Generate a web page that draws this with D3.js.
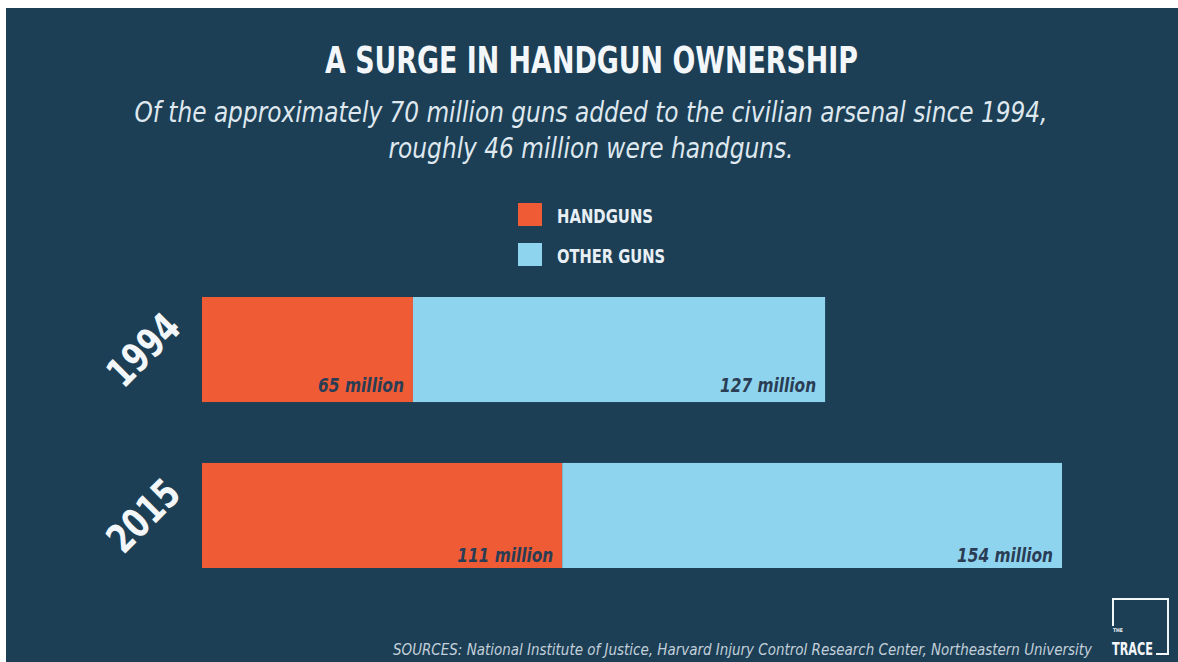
<!DOCTYPE html>
<html>
<head>
<meta charset="utf-8">
<script src="https://cdn.jsdelivr.net/npm/d3@7"></script>
<style>
  html, body { margin: 0; padding: 0; background: #ffffff; }
  svg { display: block; }
</style>
</head>
<body>
<svg id="chart" width="1178" height="662"></svg>
<script>
// ---- data ----
const years = ["1994", "2015"];
const handguns = [65, 111];
const otherGuns = [127, 154];
const seriesNames = ["HANDGUNS", "OTHER GUNS"];
const title = "A SURGE IN HANDGUN OWNERSHIP";
const subtitleLines = [
  "Of the approximately 70 million guns added to the civilian arsenal since 1994,",
  "roughly 46 million were handguns."
];
const sourceText = "SOURCES:  National Institute of Justice, Harvard Injury Control Research Center, Northeastern University";

// ---- style ----
const BG = "#1c3f56";
const ORANGE = "#ef5b34";
const BLUE = "#8fd4ee";
const LABEL = "#2a3d55";
const COND = "'Liberation Sans Narrow', 'DejaVu Sans Condensed', 'Roboto', sans-serif";

const svg = d3.select("#chart");
svg.append("rect").attr("x", 6).attr("y", 8).attr("width", 1172).attr("height", 654).attr("fill", BG);

function fit(sel, w) {
  sel.attr("textLength", w).attr("lengthAdjust", "spacingAndGlyphs");
  return sel;
}
// scale font size so the natural width matches the target width
function fitFont(sel, w) {
  const fs = +sel.attr("font-size");
  const nat = sel.node().getComputedTextLength();
  if (nat > 0) sel.attr("font-size", (fs * w / nat).toFixed(2));
  return sel;
}

// title
fit(svg.append("text")
  .attr("x", 591.5).attr("y", 73)
  .attr("text-anchor", "middle")
  .attr("font-family", COND).attr("font-weight", "bold").attr("font-size", 38)
  .attr("fill", "#f3f7fa")
  .text(title), 533);

// subtitle
const subW = [913, 405];
const subY = [122, 158];
subtitleLines.forEach((t, i) => {
  fit(svg.append("text")
    .attr("x", 591).attr("y", subY[i])
    .attr("text-anchor", "middle")
    .attr("font-family", COND).attr("font-style", "italic").attr("font-size", 28)
    .attr("fill", "#dfe8ef")
    .text(t), subW[i]);
});

// legend
const legendColors = [ORANGE, BLUE];
const legendW = [96, 108];
const legend = svg.append("g");
seriesNames.forEach((n, i) => {
  legend.append("rect").attr("x", 518).attr("y", 203 + i * 40).attr("width", 24).attr("height", 23).attr("fill", legendColors[i]);
  fit(legend.append("text")
    .attr("x", 557).attr("y", 223 + i * 40)
    .attr("font-family", COND).attr("font-weight", "bold").attr("font-size", 19)
    .attr("fill", "#e9f0f5")
    .text(n), legendW[i]);
});

// scales
const totals = years.map((y, i) => handguns[i] + otherGuns[i]);
const x = d3.scaleLinear().domain([0, d3.max(totals)]).range([202, 1062]);
const y = d3.scaleBand().domain(years).range([297, 568]).paddingInner(0.367).paddingOuter(0);

const rows = years.map((yr, i) => ({
  year: yr,
  segs: [
    { key: "h", x0: 0, x1: handguns[i], v: handguns[i], color: ORANGE },
    { key: "o", x0: handguns[i], x1: handguns[i] + otherGuns[i], v: otherGuns[i], color: BLUE }
  ]
}));

const g = svg.append("g");
const row = g.selectAll("g.row").data(rows).join("g").attr("class", "row");

row.selectAll("rect").data(d => d.segs.map(s => ({ ...s, year: d.year }))).join("rect")
  .attr("x", d => x(d.x0))
  .attr("y", d => y(d.year))
  .attr("width", d => x(d.x1) - x(d.x0))
  .attr("height", y.bandwidth())
  .attr("fill", d => d.color);

const labelBottom = { "1994": 10, "2015": 6 };
row.selectAll("text.val").data(d => d.segs.map(s => ({ ...s, year: d.year }))).join("text")
  .attr("class", "val")
  .attr("x", d => x(d.x1) - 9)
  .attr("y", d => y(d.year) + y.bandwidth() - labelBottom[d.year])
  .attr("text-anchor", "end")
  .attr("font-family", COND).attr("font-weight", "bold").attr("font-style", "italic").attr("font-size", 19)
  .attr("fill", LABEL)
  .text(d => d.v + " million")
  .each(function(d) {
    fit(d3.select(this), String(d.v).length === 2 ? 86 : 96);
  });

// year labels
row.append("text")
  .attr("transform", d => `translate(143,${y(d.year) + y.bandwidth() / 2}) rotate(-45)`)
  .attr("text-anchor", "middle")
  .attr("dy", "0.36em")
  .attr("font-family", "'DejaVu Sans Condensed', 'Liberation Sans Narrow', sans-serif")
  .attr("font-weight", "bold").attr("font-size", 40)
  .attr("fill", "#f3f7fa")
  .text(d => d.year)
  .each(function() { fit(d3.select(this), 84); });

// sources
fitFont(svg.append("text")
  .attr("x", 393).attr("y", 655)
  .attr("font-family", COND).attr("font-style", "italic").attr("font-size", 16)
  .attr("fill", "#c3cfd9")
  .text(sourceText), 699);

// logo
svg.append("path")
  .attr("d", "M1113,626 V599 H1168 V654 H1156")
  .attr("fill", "none").attr("stroke", "#f3f7fa").attr("stroke-width", 2);
svg.append("text").attr("x", 1113).attr("y", 632)
  .attr("font-family", COND).attr("font-weight", "bold").attr("font-size", 5)
  .attr("fill", "#f3f7fa").text("THE");
fit(svg.append("text").attr("x", 1112).attr("y", 655)
  .attr("font-family", COND).attr("font-weight", "bold").attr("font-size", 18)
  .attr("fill", "#f3f7fa").text("TRACE"), 41);
</script>
</body>
</html>
